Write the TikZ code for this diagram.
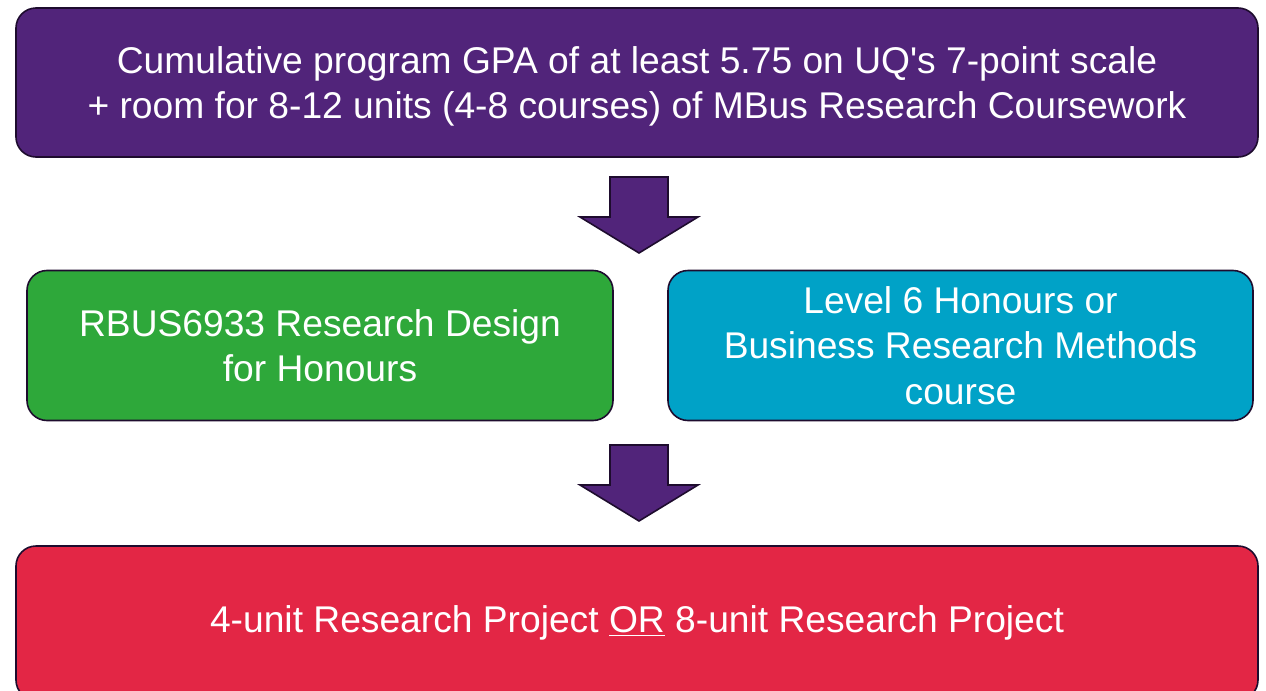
\documentclass[tikz,border=0pt]{standalone}
\usepackage{fontspec}
\setmainfont{Liberation Sans}
\definecolor{uqpurple}{RGB}{81,36,122}
\definecolor{uqgreen}{RGB}{46,168,58}
\definecolor{uqblue}{RGB}{0,162,199}
\definecolor{uqred}{RGB}{227,38,69}
\definecolor{edgedark}{RGB}{30,12,46}
\begin{document}
\begin{tikzpicture}[line cap=round,line join=round,x=0.5pt,y=-0.5pt,
	stagebox/.style={draw=edgedark,line width=0.8pt,rounded corners=10pt,text=white,align=center,
		font=\fontsize{18.6}{22.75}\selectfont,inner sep=0pt},
	bigarrow/.style={draw=edgedark,line width=0.8pt,fill=uqpurple,line join=miter}]
	\clip (0,0) rectangle (1266,691);
	\node[stagebox,fill=uqpurple,minimum width=621pt,minimum height=74.5pt,text depth=0pt] (gpa) at (637,82.5)
		{Cumulative program GPA of at least 5.75 on UQ\textquotesingle s 7-point scale\\+ room for 8-12 units (4-8 courses) of MBus Research Coursework};
	\node[stagebox,fill=uqgreen,minimum width=293pt,minimum height=75pt] (rbus) at (320,345.5)
		{RBUS6933 Research Design\\for Honours};
	\node[stagebox,fill=uqblue,minimum width=292.5pt,minimum height=75pt] (level) at (960.5,345.5)
		{Level 6 Honours or\\Business Research Methods\\course};
	\node[stagebox,fill=uqred,minimum width=621pt,minimum height=77pt] (project) at (637,623)
		{4-unit Research Project \underline{OR} 8-unit Research Project};
	% block arrows between the stages
	\foreach \ytop in {177,445}
	\draw[bigarrow] (610,\ytop) -- (668,\ytop) -- (668,\ytop+40) -- (698,\ytop+40)
		-- (639,\ytop+76) -- (580,\ytop+40) -- (610,\ytop+40) -- cycle;
\end{tikzpicture}
\end{document}
